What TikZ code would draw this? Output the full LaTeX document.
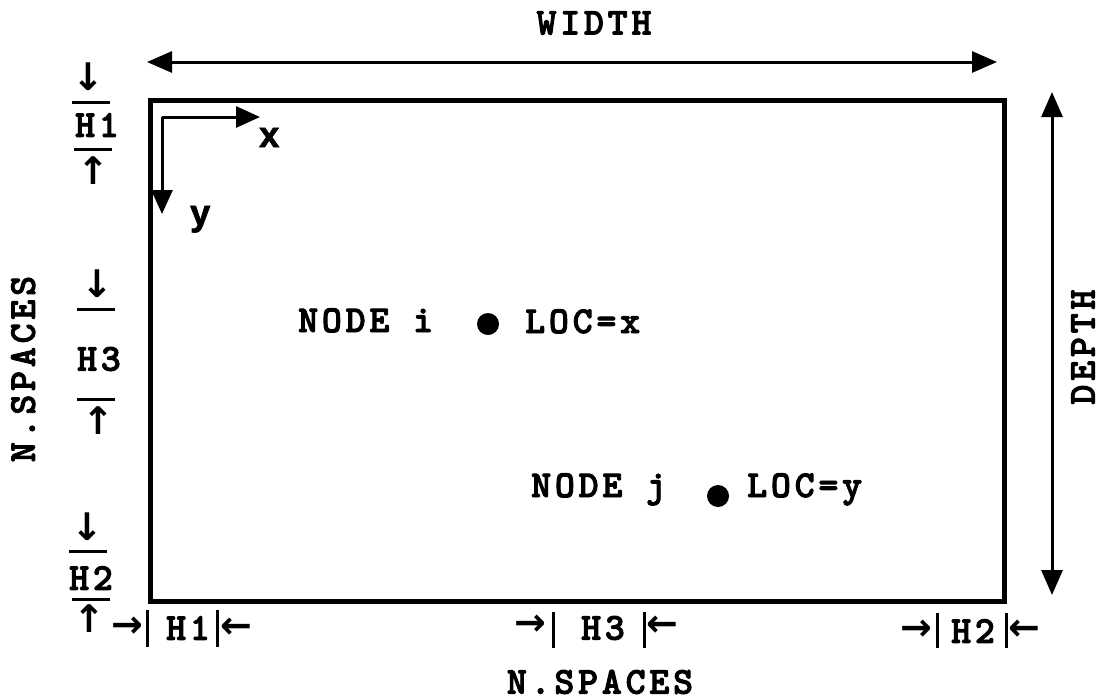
\documentclass[tikz,border=0pt]{standalone}
\usepackage{fontspec}
\newfontfamily\courfont{lmmonolt10-bold.otf}[LetterSpace=10, FakeBold=2.5]
\newfontfamily\sansfontb{Liberation Sans}[BoldFeatures={FakeBold=2}]
\newfontfamily\arrowfont{DejaVu Sans}
\usetikzlibrary{arrows.meta}
\tikzset{
  lbl/.style={font=\courfont\fontsize{38}{38}\selectfont, inner sep=0pt},
  axlbl/.style={font=\sansfontb\bfseries\fontsize{36}{36}\selectfont, inner sep=0pt},
  arr/.style={font=\arrowfont\bfseries\fontsize{38}{38}\selectfont, inner sep=0pt},
  bigtip/.style={line width=3pt, {Triangle[length=25pt,width=21pt]}-{Triangle[length=25pt,width=21pt]}},
  axis/.style={line width=3pt, -{Triangle[length=24pt,width=21pt]}},
  bar/.style={line width=3pt},
  dot/.style={circle, fill=black, minimum size=22pt, inner sep=0pt},
}
\begin{document}
\begin{tikzpicture}[x=1pt,y=-1pt]
\useasboundingbox (0,0) rectangle (1099,699);
% frame
\draw[line width=5pt] (150,100) rectangle (1004,601);
% width / depth
\coordinate (wL) at (147,62);
\coordinate (wR) at (997,62);
\draw[bigtip] (wL) -- (wR);
\node[lbl] (width) at (594,23) {WIDTH};
\coordinate (dT) at (1052,92);
\coordinate (dB) at (1052,595);
\draw[bigtip] (dT) -- (dB);
\node[lbl, rotate=90, text depth=0pt] (depth) at (1083,347) {DEPTH};
% axes
\coordinate (O) at (162,117);
\coordinate (xT) at (260,117);
\coordinate (yT) at (162,214);
\draw[axis] (O) -- (xT);
\draw[axis] (O) -- (yT);
\node[axlbl, anchor=base west] (xl) at (259,147) {x};
\node[axlbl, anchor=base west] (yl) at (190,225) {y};
% nodes
\node[lbl, anchor=base west] (ni) at (298,332) {NODE i};
\node[dot] (di) at (488,324) {};
\node[lbl, anchor=base west] (li) at (525,333) {LOC=x};
\node[lbl, anchor=base west] (nj) at (531,497) {NODE j};
\node[dot] (dj) at (718,496) {};
\node[lbl, anchor=base west] (lj) at (747,497) {LOC=y};
% left dimension labels
\node[arr] (a1) at (88,77) {↓};
\draw[bar] (72,102) -- (110,102);
\node[lbl] (h1l) at (97,125) {H1};
\draw[bar] (74,149) -- (112,149);
\node[arr] (a2) at (93,171) {↑};
\node[arr] (a3) at (97,284) {↓};
\draw[bar] (77,309) -- (115,309);
\node[lbl] (h3l) at (99,359) {H3};
\draw[bar] (77,399) -- (115,399);
\node[arr] (a4) at (98,421) {↑};
\node[arr] (a5) at (87,527) {↓};
\draw[bar] (69,551) -- (107,551);
\node[lbl] (h2l) at (91,578) {H2};
\draw[bar] (72,599) -- (110,599);
\node[arr] (a6) at (89,619) {↑};
\node[lbl, rotate=90, text depth=0pt] (nsl) at (23,369) {N.SPACES};
% bottom dimension labels
\node[arr] (b1) at (127,627) {→};
\draw[bar] (147,610) -- (147,647);
\node[lbl] (h1b) at (188,628) {H1};
\draw[bar] (217,610) -- (217,647);
\node[arr] (b2) at (236,628) {←};
\node[arr] (b3) at (530,625) {→};
\draw[bar] (553,612) -- (553,648);
\node[lbl] (h3b) at (603,628) {H3};
\draw[bar] (644,612) -- (644,648);
\node[arr] (b4) at (662,626) {←};
\node[arr] (b5) at (916,630) {→};
\draw[bar] (937,613) -- (937,648);
\node[lbl] (h2b) at (973,631) {H2};
\draw[bar] (1006,613) -- (1006,648);
\node[arr] (b6) at (1024,630) {←};
\node[lbl] (nsb) at (600,682) {N.SPACES};
\end{tikzpicture}
\end{document}
